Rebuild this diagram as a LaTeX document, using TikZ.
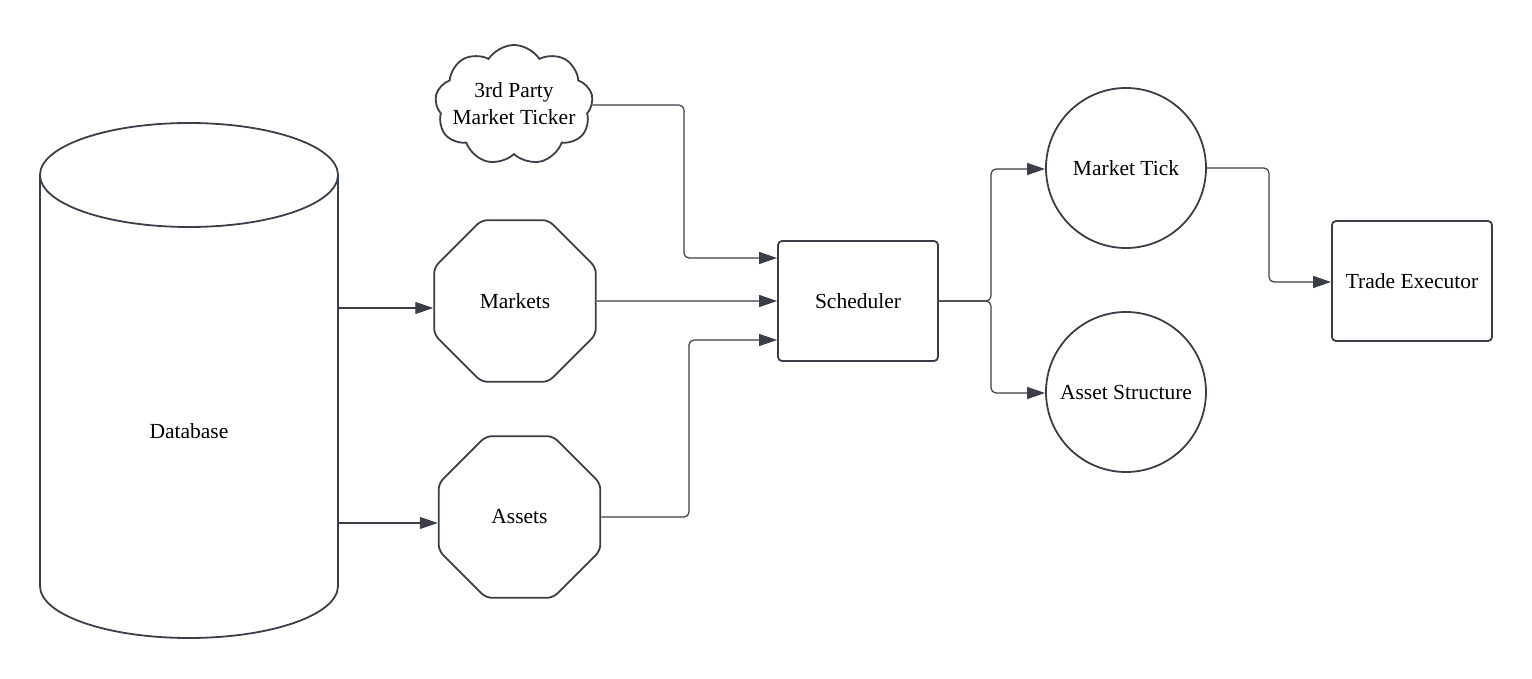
\documentclass[tikz,border=0pt]{standalone}
\usepackage{fontspec}
\setmainfont{Liberation Serif}
\usetikzlibrary{shapes.geometric,shapes.symbols,arrows.meta}
\definecolor{ink}{HTML}{3B3E47}
\begin{document}
\begin{tikzpicture}[x=1pt,y=1pt,
  every node/.style={font=\fontsize{21.5}{27}\selectfont, text=black},
  shp/.style={draw=ink, line width=1.8pt},
  octa/.style={shp, regular polygon, regular polygon sides=8, minimum size=175, inner sep=0pt, rounded corners=6pt},
  rbox/.style={shp, rectangle, rounded corners=4pt, minimum width=160, minimum height=120},
  disc/.style={shp, circle, minimum size=160, inner sep=0pt},
  conn/.style={draw=ink, line width=1.2pt, rounded corners=5pt, -{Triangle[length=18pt,width=12pt]}}]
\useasboundingbox (0,0) rectangle (1532,678);
\draw[shp] (40,503) -- (40,92) arc (180:360:149 and 52) -- (338,503);
\draw[shp] (189,503) ellipse (149 and 52);
\node (db) at (189,247) {Database};
\coordinate (db1) at (338,370);
\coordinate (db2) at (338,155);
\node[shp, cloud, cloud puffs=9, cloud puff arc=115, aspect=1.3, minimum width=158, minimum height=120] (ticker) at (514,573) {};
\node[align=center] (tickertext) at (514,574) {3rd Party\\Market Ticker};
\node[octa] (markets) at (515,377) {Markets};
\node[octa] (assets) at (519.5,161) {Assets};
\node[rbox] (sched) at (858,377) {Scheduler};
\node[disc] (tick) at (1126,510) {Market Tick};
\node[disc] (struct) at (1126,286) {Asset Structure};
\node[rbox] (trade) at (1412,397) {Trade Executor};
\draw[conn] (db1) -- (markets.west |- db1);
\draw[conn] (db2) -- (assets.west |- db2);
\draw[conn] (markets.east) -- (sched.west);
\draw[conn] (ticker.east) -| (684,420) -- ([yshift=43pt]sched.west);
\draw[conn] (assets.east) -| (689,338) -- ([yshift=-39pt]sched.west);
\draw[conn] (sched.east) -| (991,509) -- (tick.west |- 0,509);
\draw[conn] (sched.east) -| (991,285) -- (struct.west |- 0,285);
\draw[conn] (tick.east) -| (1269,396) -- (trade.west |- 0,396);
\end{tikzpicture}
\end{document}
